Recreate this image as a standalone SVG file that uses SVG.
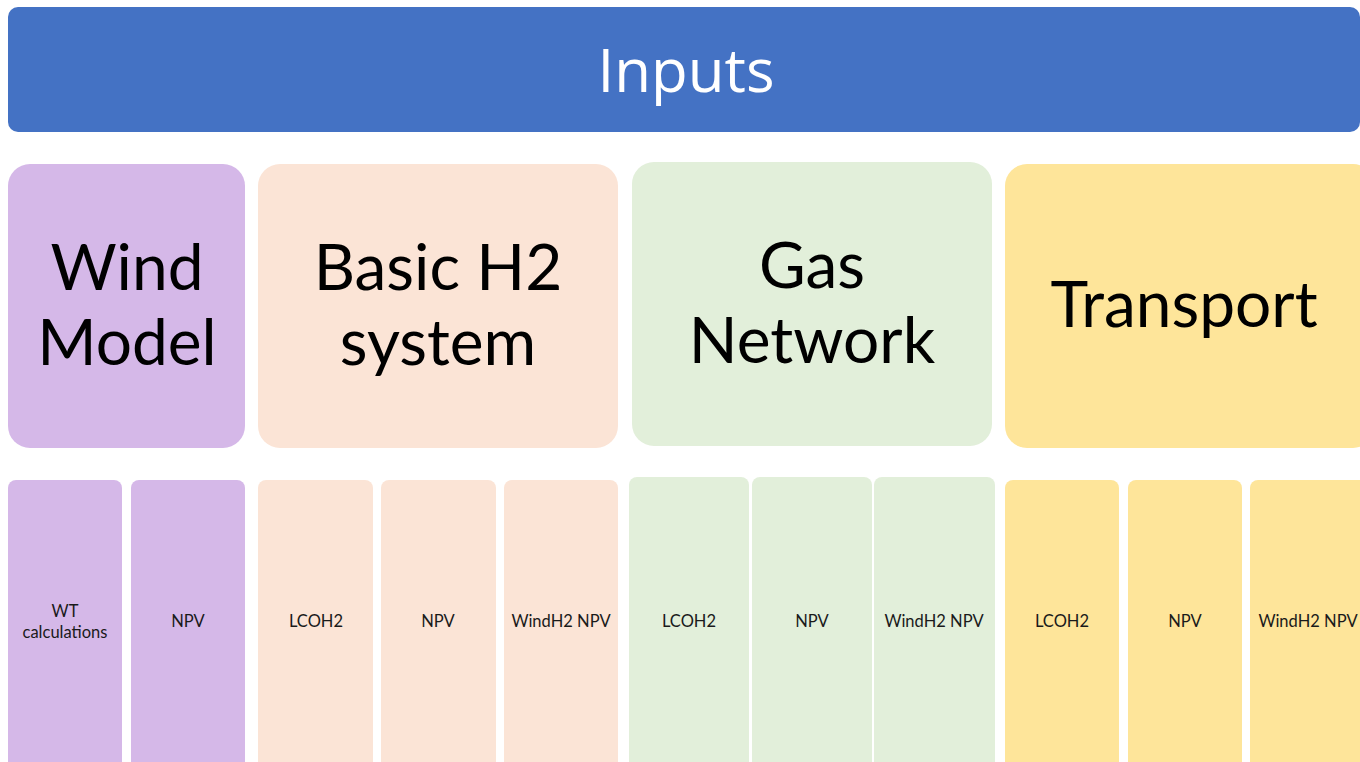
<svg xmlns="http://www.w3.org/2000/svg" width="1360" height="762" viewBox="0 0 1360 762">
<style>
.big{font-family:Lato,"Open Sans",sans-serif;font-size:64px;fill:#000;text-anchor:middle}
.small{font-family:Lato,"Open Sans",sans-serif;font-size:16.5px;fill:#1a1a1a;text-anchor:middle}
.wind{fill:#D5B8E8}
.h2{fill:#FBE4D6}
.gas{fill:#E2EFDA}
.tr{fill:#FEE59A}
</style>
<rect width="1360" height="762" fill="#fff"/>
<g id="inputs">
<rect x="8" y="7" width="1352" height="125" rx="10" fill="#4472C4"/>
<text x="686" y="92" font-family="'Open Sans','Noto Sans',sans-serif" font-size="60" fill="#fff" text-anchor="middle">Inputs</text>
</g>
<g id="wind-model">
<rect class="wind" x="8" y="164" width="237" height="284" rx="22"/>
<text class="big" x="127" y="290">Wind</text>
<text class="big" x="127" y="365">Model</text>
</g>
<g id="basic-h2">
<rect class="h2" x="258" y="164" width="360" height="284" rx="22"/>
<text class="big" x="438" y="290">Basic H2</text>
<text class="big" x="438" y="365">system</text>
</g>
<g id="gas-network">
<rect class="gas" x="632" y="162" width="360" height="284" rx="22"/>
<text class="big" x="812" y="288">Gas</text>
<text class="big" x="812" y="363">Network</text>
</g>
<g id="transport">
<rect class="tr" x="1005" y="164" width="370" height="284" rx="22"/>
<text class="big" x="1184" y="327">Transport</text>
</g>
<g id="wind-wt">
<rect class="wind" x="8" y="480" width="114" height="300" rx="8"/>
<text class="small" x="65" y="617">WT</text>
<text class="small" x="65" y="638">calculations</text>
</g>
<g id="wind-npv">
<rect class="wind" x="131" y="480" width="114" height="300" rx="8"/>
<text class="small" x="188" y="627">NPV</text>
</g>
<g id="h2-lcoh2">
<rect class="h2" x="258" y="480" width="115" height="300" rx="8"/>
<text class="small" x="316" y="627">LCOH2</text>
</g>
<g id="h2-npv">
<rect class="h2" x="381" y="480" width="115" height="300" rx="8"/>
<text class="small" x="438" y="627">NPV</text>
</g>
<g id="h2-windh2">
<rect class="h2" x="504" y="480" width="114" height="300" rx="8"/>
<text class="small" x="561" y="627">WindH2 NPV</text>
</g>
<g id="gas-lcoh2">
<rect class="gas" x="629" y="477" width="120" height="300" rx="8"/>
<text class="small" x="689" y="627">LCOH2</text>
</g>
<g id="gas-npv">
<rect class="gas" x="752" y="477" width="120" height="300" rx="8"/>
<text class="small" x="812" y="627">NPV</text>
</g>
<g id="gas-windh2">
<rect class="gas" x="874" y="477" width="121" height="300" rx="8"/>
<text class="small" x="934" y="627">WindH2 NPV</text>
</g>
<g id="tr-lcoh2">
<rect class="tr" x="1005" y="480" width="114" height="300" rx="8"/>
<text class="small" x="1062" y="627">LCOH2</text>
</g>
<g id="tr-npv">
<rect class="tr" x="1128" y="480" width="114" height="300" rx="8"/>
<text class="small" x="1185" y="627">NPV</text>
</g>
<g id="tr-windh2">
<rect class="tr" x="1250" y="480" width="120" height="300" rx="8"/>
<text class="small" x="1308" y="627">WindH2 NPV</text>
</g>
<g id="connectors"></g>
</svg>
